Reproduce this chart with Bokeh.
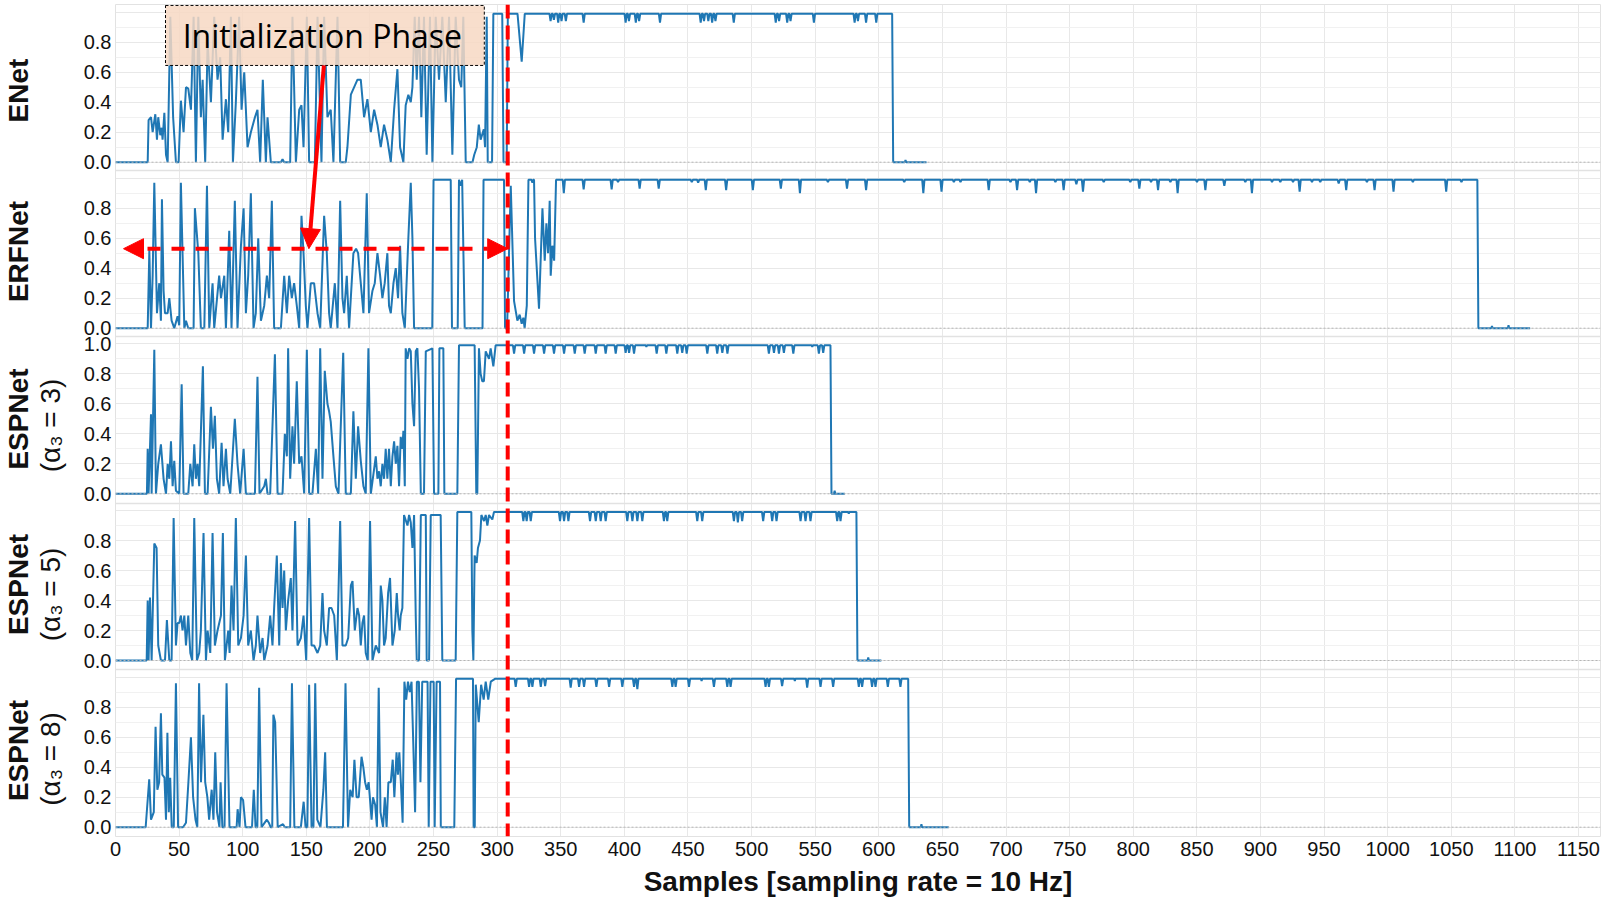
import math
from bokeh.plotting import figure
from bokeh.layouts import row
from bokeh.models import (Range1d, FixedTicker, Span, Arrow, NormalHead, BoxAnnotation, Label)
from bokeh.embed import file_html
from bokeh.resources import INLINE

# ---------------- data ----------------
X_TICKS = [0, 50, 100, 150, 200, 250, 300, 350, 400, 450, 500, 550, 600, 650, 700,
           750, 800, 850, 900, 950, 1000, 1050, 1100, 1150]
Y_TICKS_FULL = [0.0, 0.2, 0.4, 0.6, 0.8, 1.0]
Y_MINOR_FULL = [0.1, 0.3, 0.5, 0.7, 0.9]
SHOW_TOP_LABEL = [False, False, True, False, False]

PANEL_NAMES = ["ENet", "ERFNet", "ESPNet", "ESPNet", "ESPNet"]
PANEL_SUBS = [None, None, "(α₃ = 3)", "(α₃ = 5)", "(α₃ = 8)"]
INIT_END = 308.3
X_LABEL = "Samples [sampling rate = 10 Hz]"
ANNOTATION_TEXT = "Initialization Phase"

# (sample, probability) vertices
ENET = [
    (0, 0), (25.3, 0), (26, 0.28), (27.9, 0.3), (29.2, 0.2), (31.3, 0.32), (32.6, 0.15),
    (33.6, 0.3), (35.2, 0.18), (36.3, 0.23), (37, 0.15), (38.4, 0.33), (39.7, 0.05), (41, 0),
    (43.1, 0.97), (45.3, 0.3), (47.5, 0), (49.6, 0), (51.4, 0.41), (53.5, 0.2), (55.4, 0.5),
    (57.2, 0.49), (59.3, 0.35), (61.4, 0.97), (63.2, 0), (65.1, 0.97), (67.1, 0.3), (68.5, 0.55),
    (70.5, 0), (72.4, 0.8), (75, 0.4), (77.6, 0.97), (80.2, 0.55), (82.3, 0.7), (84.2, 0.15),
    (86.8, 0.42), (88.6, 0.2), (90.7, 0.97), (92.3, 0), (94.6, 0.4), (97.2, 0.97), (99.1, 0.35),
    (101.2, 0.6), (103.8, 0.1), (106.4, 0.2), (109.6, 0.3), (111.6, 0.35), (113.7, 0),
    (115.8, 0.55), (118.2, 0), (119.5, 0.3), (122.1, 0), (130, 0), (131.3, 0.02), (132.6, 0),
    (137.3, 0), (139.1, 0.97), (141.8, 0), (144.4, 0.35), (146.2, 0.38), (147.8, 0.1),
    (150.4, 0.97), (152.2, 0), (156.7, 0), (158.8, 0.97), (161.9, 0), (164, 0.97), (166.6, 0.3),
    (169.2, 0.35), (171.3, 0), (174.5, 0.97), (176.6, 0), (181, 0), (182.3, 0.1), (185, 0.45),
    (187.6, 0.5), (190.2, 0.55), (192.8, 0.55), (195.4, 0.3), (198, 0.42), (200.7, 0.2),
    (203.3, 0.35), (205.9, 0.25), (208.5, 0.1), (211.1, 0.25), (213.7, 0.15), (216.4, 0),
    (219, 0.35), (221.6, 0.62), (223.7, 0.1), (226.3, 0), (228.1, 0.38), (230.2, 0.45),
    (232.1, 0.4), (233.4, 0.5), (235.2, 0.97), (236.8, 0.55), (238.6, 0.97), (240.4, 0.3),
    (242.5, 0.97), (244.6, 0.05), (247.2, 0.97), (249.1, 0), (251.7, 0.97), (254.3, 0.55),
    (256.9, 0.97), (259.6, 0.4), (262.2, 0.97), (264.8, 0.05), (267.4, 0.97), (270, 0.55),
    (271.8, 0.5), (273.4, 0.97), (275.3, 0), (280.6, 0), (282, 0.05), (284, 0.1), (285.6, 0.25),
    (287, 0.15), (289.5, 0.22), (290.5, 0.1), (291.8, 0.97), (292.6, 0), (296, 0), (297, 0.99),
    (304, 0.99), (305, 0), (307.5, 0), (308.4, 0.99), (316, 0.99), (319.3, 0.67), (321.7, 0.99),
    (341.1, .99), (342, .94), (342.9, .99), (343.7, .99), (344.6, .95), (345.5, .99),
    (347.1, .99), (348, .93), (348.9, .99), (349.7, .99), (350.6, .94), (351.5, .99),
    (353.1, .99), (354, .94), (354.9, .99), (367.1, .99), (368, .93), (368.9, .99),
    (400.1, .99), (401, .93), (401.9, .99), (402.7, .99), (403.6, .94), (404.5, .99),
    (408.1, .99), (409, .93), (409.9, .99), (410.7, .99), (411.6, .94), (412.5, .99),
    (427.1, .99), (428, .93), (428.9, .99),
    (459.1, .99), (460, .93), (460.9, .99), (461.7, .99), (462.6, .94), (463.5, .99),
    (465.1, .99), (466, .94), (466.9, .99), (468.1, .99), (469, .93), (469.9, .99),
    (470.7, .99), (471.6, .94), (472.5, .99), (485.1, .99), (486, .93), (486.9, .99),
    (518.1, .99), (519, .93), (519.9, .99), (520.7, .99), (521.6, .94), (522.5, .99),
    (527.1, .99), (528, .93), (528.9, .99), (529.7, .99), (530.6, .94), (531.5, .99),
    (548.1, .99), (549, .93), (549.9, .99),
    (580.1, .99), (581, .93), (581.9, .99), (582.7, .99), (583.6, .94), (584.5, .99),
    (589.1, .99), (590, .93), (590.9, .99), (597.1, .99), (598, .93), (598.9, .99),
    (610.5, .99), (611.3, 0), (620.5, 0), (621, .015), (621.5, 0), (637.5, 0),
]

ERFNET = [
    (0, 0), (25.3, 0), (26.6, 0.52), (27.9, 0), (29.2, 0.35), (30.5, 0.97), (32.6, 0.1),
    (34.4, 0.3), (35.7, 0.05), (36.5, 0.86), (37.8, 0.25), (38.9, 0.1), (41, 0.1), (42.3, 0.2),
    (44.1, 0.05), (46.2, 0), (48.8, 0.08), (50.1, 0.02), (51.4, 0.97), (54.1, 0), (55.4, 0.05),
    (57.2, 0), (61.4, 0), (62.4, 0.8), (65.1, 0.5), (67.1, 0), (69.8, 0), (71.9, 0.95),
    (73.7, 0), (76.3, 0.3), (77.6, 0), (81.5, 0.35), (82.9, 0.2), (85.5, 0.35), (86.8, 0),
    (89.4, 0.65), (91.2, 0), (93.8, 0.85), (95.9, 0), (98.6, 0.55), (100.7, 0.8), (102.5, 0.1),
    (104.3, 0.35), (106.4, 0.9), (108.5, 0), (110.3, 0.1), (112.2, 0.6), (114.3, 0.05),
    (116.9, 0.15), (119, 0.35), (120.8, 0.2), (122.9, 0.85), (124.7, 0), (130, 0),
    (132.6, 0.35), (134.7, 0.1), (136.5, 0.35), (138.6, 0.2), (140.4, 0.3), (142.5, 0.15),
    (144.4, 0), (146.2, 0.75), (147.8, 0.5), (149.6, 0.15), (150.9, 0), (153.5, 0.3),
    (156.1, 0.3), (158.8, 0.1), (160.9, 0), (164, 0.75), (166.1, 0.5), (167.9, 0.1),
    (169.2, 0), (172.4, 0.3), (174.5, 0), (176.6, 0.85), (178.4, 0.2), (179.7, 0.1),
    (181.8, 0.35), (183.6, 0), (187, 0.5), (189.1, 0.53), (190.7, 0.5), (192.8, 0.3),
    (194.9, 0.1), (197.5, 0.9), (199.3, 0.1), (202, 0.25), (203.8, 0.3), (205.9, 0.5),
    (208, 0.35), (209.8, 0.2), (211.6, 0.3), (213.7, 0.5), (215, 0.15), (216.4, 0.1),
    (218.5, 0.3), (220.3, 0.4), (222.1, 0.2), (223.7, 0.55), (225.5, 0.1), (227.4, 0),
    (230.2, 0.6), (232.1, 0.97), (233.4, 0.6), (234.7, 0), (249, 0), (250, 0.99),
    (263.5, 0.99), (264.5, 0), (269, 0), (270, 0.99), (271.5, 0.95), (272.5, 0.99),
    (274.5, 0), (288.5, 0), (289.3, 0.99), (305.4, 0.99), (306.2, 0), (307.8, 0),
    (310.7, 0.95), (313.3, 0.18), (315.9, 0.05), (317.7, 0.09), (319.3, 0.03), (320.6, 0.07),
    (321.6, 0), (323.3, 0.15), (324.6, 0.99), (327, 0.99), (327.7, 0.97), (328.4, 0.99),
    (329, 0.99), (329.8, 0.6), (332.9, 0.13), (335.6, 0.8), (337.4, 0.45), (338.7, 0.7),
    (340, 0.5), (341.3, 0.85), (342.1, 0.35), (343.4, 0.55), (344.8, 0.45), (346.3, 0.99),
    (351.5, .99), (352.4, .90), (353.3, .99), (367.1, .99), (368, .925), (368.9, .99),
    (389.1, .99), (390, .925), (390.9, .99), (394.1, .99), (395, .975), (395.9, .99),
    (411.1, .99), (412, .93), (412.9, .99), (426.1, .99), (427, .93), (427.9, .99),
    (452.1, .99), (453, .975), (453.9, .99), (457.1, .99), (458, .97), (458.9, .99),
    (463.1, .99), (464, .92), (464.9, .99), (479.1, .99), (480, .92), (480.9, .99),
    (500.1, .99), (501, .92), (501.9, .99), (522.1, .99), (523, .93), (523.9, .99),
    (537.1, .99), (538, .90), (538.9, .99), (559.1, .99), (560, .975), (560.9, .99),
    (574.1, .99), (575, .93), (575.9, .99), (589.1, .99), (590, .92), (590.9, .99),
    (619.1, .99), (620, .975), (620.9, .99), (634.1, .99), (635, .90), (635.9, .99),
    (648.4, .99), (649.3, .91), (650.2, .99), (658.1, .99), (659, .975), (659.9, .99),
    (663.3, .99), (664.2, .975), (665.1, .99), (685.5, .99), (686.4, .92), (687.3, .99),
    (702.6, .99), (703.5, .975), (704.4, .99), (707.8, .99), (708.7, .92), (709.6, .99),
    (717.8, .99), (718.7, .975), (719.6, .99), (722.7, .99), (723.6, .90), (724.5, .99),
    (737.9, .99), (738.8, .975), (739.7, .99), (744.4, .99), (745.3, .92), (746.2, .99),
    (754.4, .99), (755.3, .96), (756.2, .99), (759.6, .99), (760.5, .91), (761.4, .99),
    (775.9, .99), (776.8, .975), (777.7, .99), (796.8, .99), (797.7, .975), (798.6, .99),
    (803.9, .99), (804.8, .93), (805.7, .99), (813.1, .99), (814, .975), (814.9, .99),
    (818.6, .99), (819.5, .92), (820.4, .99), (828.3, .99), (829.2, .975), (830.1, .99),
    (834, .99), (834.9, .90), (835.8, .99), (849.2, .99), (850.1, .975), (851, .99),
    (855.8, .99), (856.7, .92), (857.6, .99), (870.7, .99), (871.6, .95), (872.5, .99),
    (887.2, .99), (888.1, .975), (889, .99), (892.4, .99), (893.3, .90), (894.2, .99),
    (908.2, .99), (909.1, .975), (910, .99), (914.7, .99), (915.6, .975), (916.5, .99),
    (924.7, .99), (925.6, .975), (926.5, .99), (929.9, .99), (930.8, .91), (931.7, .99),
    (939.6, .99), (940.5, .975), (941.4, .99), (946.1, .99), (947, .975), (947.9, .99),
    (960.6, .99), (961.5, .965), (962.4, .99), (966.5, .99), (967.4, .92), (968.3, .99),
    (982.8, .99), (983.7, .975), (984.6, .99), (988.8, .99), (989.7, .92), (990.6, .99),
    (1003.7, .99), (1004.6, .91), (1005.5, .99), (1018.9, .99), (1019.8, .975), (1020.7, .99),
    (1045.1, .99), (1046, .91), (1046.9, .99), (1057.1, .99), (1058, .975), (1058.9, .99),
    (1070.5, .99), (1071.3, 0), (1081.5, 0), (1082, .015), (1082.5, 0), (1094.5, 0),
    (1095, .02), (1095.5, 0), (1112, 0),
]

ESPNET_A3 = [
    (0, 0), (24.7, 0), (25.3, 0.3), (26, 0), (27.9, 0.53), (28.4, 0), (30.5, 0.96), (31.8, 0),
    (33.6, 0.2), (35.7, 0.33), (37.8, 0.1), (39.7, 0), (41, 0.2), (42.3, 0.1), (43.6, 0.35),
    (44.9, 0.05), (46.2, 0.22), (47.5, 0.02), (50.1, 0), (52, 0.73), (53.5, 0), (57.2, 0),
    (58.8, 0.2), (60.6, 0.05), (61.9, 0.33), (63.2, 0.1), (64.5, 0.2), (65.8, 0.05),
    (68.7, 0.85), (70.3, 0), (72.4, 0), (75, 0.58), (76.6, 0.3), (78.1, 0.52), (79.7, 0.1),
    (81.5, 0), (83.4, 0.34), (84.9, 0.05), (86.8, 0.3), (88.1, 0.1), (90.2, 0), (93.8, 0.5),
    (95.9, 0.2), (98, 0), (100.7, 0.3), (102.5, 0), (109.6, 0), (111.6, 0.78), (113.2, 0),
    (116.9, 0.05), (118.2, 0.1), (119.5, 0), (121.6, 0), (125.3, 0.93), (127.4, 0), (131.3, 0),
    (133.1, 0.4), (134.7, 0.25), (135.7, 0.97), (137.3, 0.1), (139.1, 0.45), (140.4, 0.2),
    (142.5, 0.75), (144.4, 0.2), (146.2, 0.25), (148.3, 0), (150.4, 0.96), (152.2, 0),
    (154.8, 0), (157.5, 0.3), (159.3, 0), (160.9, 0.97), (162.7, 0.1), (164.5, 0.82),
    (166.6, 0.6), (167.9, 0.55), (169.2, 0.48), (171.3, 0.25), (173.2, 0.05), (175.3, 0),
    (179, 0.94), (181, 0), (185, 0), (187, 0.55), (188.9, 0.1), (190.7, 0.45), (192.8, 0.22),
    (194.9, 0.05), (196.7, 0), (198.8, 0.97), (200.7, 0), (204.6, 0.25), (205.9, 0.1),
    (207.2, 0.15), (208.5, 0.05), (209.8, 0.2), (211.1, 0.1), (212.4, 0.3), (213.7, 0.1),
    (215, 0.3), (216.4, 0.05), (217.7, 0.25), (219, 0.35), (220.3, 0.2), (221.6, 0.32),
    (222.9, 0.05), (224.2, 0.38), (225.5, 0.3), (226.3, 0.42), (227.4, 0.05), (228.1, 0.97),
    (229.5, 0.9), (230.8, 0.97), (232.1, 0.95), (233.4, 0.6), (234.7, 0.45), (236, 0.95),
    (237.3, 0.97), (238.6, 0.7), (240, 0), (242.5, 0), (243.9, 0.95), (249.1, 0.97),
    (250.4, 0), (253.8, 0), (254.6, 0.97), (257.7, 0.97), (258.5, 0), (268.7, 0), (270, 0.99),
    (282.3, 0.99), (283.6, 0), (284.4, 0), (285.7, 0.97), (287, 0.8), (288.3, 0.75),
    (289.6, 0.75), (291, 0.95), (293.6, 0.9), (294.9, 0.97), (297, 0.85), (298.8, 0.99),
    (312.4, .99), (313.3, .935), (314.2, .99), (320.3, .99), (321.2, .935), (322.1, .99),
    (328.1, .99), (329, .935), (329.9, .99), (336, .99), (336.9, .935), (337.8, .99),
    (343.8, .99), (344.7, .935), (345.6, .99), (351.7, .99), (352.6, .935), (353.5, .99),
    (360.1, .99), (361, .935), (361.9, .99), (367.9, .99), (368.8, .935), (369.7, .99),
    (376.6, .99), (377.5, .935), (378.4, .99), (384.4, .99), (385.3, .935), (386.2, .99),
    (392.3, .99), (393.2, .935), (394.1, .99), (400.1, .99), (401, .94), (401.9, .99),
    (402.8, .99), (403.7, .94), (404.6, .99), (406.7, .99), (407.6, .935), (408.5, .99),
    (416.8, .99), (417.3, .98), (417.8, .99), (424.5, .99), (425.4, .935), (426.3, .99),
    (432.1, .99), (433, .935), (433.9, .99), (440.7, .99), (441.6, .935), (442.5, .99),
    (444.6, .99), (445.5, .94), (446.4, .99), (448.1, .99), (449, .935), (449.9, .99),
    (464.3, .99), (465.2, .935), (466.1, .99), (472.1, .99), (473, .935), (473.9, .99),
    (476.1, .99), (477, .94), (477.9, .99), (480.1, .99), (481, .935), (481.9, .99),
    (512.7, .99), (513.6, .935), (514.5, .99), (516.7, .99), (517.6, .94), (518.5, .99),
    (520.6, .99), (521.5, .935), (522.4, .99), (524.5, .99), (525.4, .94), (526.3, .99),
    (531.9, .99), (532.8, .935), (533.7, .99), (547.2, .99), (547.7, .98), (548.2, .99),
    (552, .99), (552.9, .935), (553.8, .99), (555.4, .99), (556.3, .94), (557.2, .99),
    (562, .99), (562.8, 0), (564.8, 0), (565.3, .02), (565.8, 0), (573.3, 0),
]

ESPNET_A5 = [
    (0, 0), (24.5, 0), (25.3, 0.4), (26, 0), (27.1, 0.42), (28.4, 0), (30.5, 0.78), (32.3, 0.75),
    (33.6, 0.1), (35.7, 0), (38.9, 0), (40.4, 0.27), (42.3, 0), (44.1, 0), (45.7, 0.95),
    (47.5, 0.1), (48.8, 0.25), (50.1, 0.25), (51.4, 0.3), (52.7, 0.2), (54.1, 0.3), (55.4, 0.1),
    (57.2, 0.3), (58.8, 0.05), (60.3, 0), (61.9, 0.95), (64, 0), (65.8, 0.05), (67.1, 0.2),
    (69.2, 0.85), (71.1, 0), (72.4, 0.2), (74.5, 0.05), (76.3, 0.85), (78.1, 0.1), (80.2, 0.2),
    (82.9, 0.3), (84.4, 0.85), (86, 0), (88.6, 0.2), (89.7, 0.05), (91.2, 0.5), (92.8, 0.2),
    (94.6, 0.95), (96.5, 0.1), (98.6, 0.15), (100.7, 0.3), (102.5, 0.7), (104.3, 0.1),
    (106.4, 0.2), (108.5, 0), (110.3, 0.1), (111.6, 0.3), (113.7, 0.05), (115.6, 0.15),
    (116.9, 0), (119.5, 0.1), (121.6, 0.3), (123.4, 0.1), (124.7, 0.35), (126.8, 0.7),
    (128.7, 0.1), (130, 0.65), (131.3, 0.35), (132.6, 0.6), (133.9, 0.2), (135.7, 0.4),
    (137.8, 0.55), (139.1, 0.2), (141.2, 0.93), (143.1, 0.1), (145.7, 0.15), (147.8, 0.3),
    (149.9, 0), (152.2, 0.95), (154.1, 0.1), (156.1, 0.1), (158.8, 0.05), (160.9, 0.1),
    (162.7, 0.45), (164, 0.2), (166.1, 0.1), (167.9, 0.35), (169.8, 0.35), (171.9, 0.3),
    (174, 0), (176.6, 0.93), (178.4, 0.1), (181, 0.1), (182.9, 0.15), (185, 0.5), (186.3, 0.53),
    (188.1, 0.2), (190.2, 0.35), (191.5, 0.3), (192.8, 0.1), (194.1, 0.25), (195.4, 0.3),
    (196.7, 0.05), (198.3, 0), (200.1, 0.93), (202, 0), (204.6, 0.1), (207.2, 0.05),
    (208.5, 0.5), (209.8, 0.4), (211.1, 0.1), (212.4, 0.15), (214.3, 0.45), (215.8, 0.55),
    (217.7, 0.1), (219.5, 0.2), (221.1, 0.45), (222.1, 0.3), (223.4, 0.2), (224.2, 0.3),
    (225.5, 0.35), (226.8, 0.97), (229.5, 0.9), (230.8, 0.97), (232.1, 0.92), (233.4, 0.75),
    (234.7, 0.97), (236, 0.3), (236.8, 0), (238.6, 0), (240, 0.97), (243.9, 0.97), (244.6, 0),
    (246.5, 0), (247.8, 0.97), (255.6, 0.97), (256.9, 0), (267.4, 0), (268.7, 0.99),
    (279.7, 0.99), (280.5, 0.2), (281.3, 0), (282.3, 0.7), (283.9, 0.65), (284.9, 0.75),
    (286.5, 0.8), (287.6, 0.97), (289.7, 0.93), (291, 0.97), (292.3, 0.9), (293.6, 0.97),
    (296.2, 0.94), (297.5, 0.99),
    (319.7, .99), (320.6, .93), (321.5, .99), (322.3, .99), (323.2, .93), (324.1, .99),
    (325.5, .99), (326.4, .93), (327.3, .99), (348.5, .99), (349.4, .93), (350.3, .99),
    (351.7, .99), (352.6, .93), (353.5, .99), (355.1, .99), (356, .93), (356.9, .99),
    (372.1, .99), (373, .93), (373.9, .99), (376.6, .99), (377.5, .93), (378.4, .99),
    (380.5, .99), (381.4, .93), (382.3, .99), (384.4, .99), (385.3, .93), (386.2, .99),
    (401.4, .99), (402.3, .93), (403.2, .99), (405.4, .99), (406.3, .93), (407.2, .99),
    (409.3, .99), (410.2, .93), (411.1, .99), (413.2, .99), (414.1, .93), (415, .99),
    (430.2, .99), (431.1, .93), (432, .99), (432.8, .99), (433.7, .93), (434.6, .99),
    (456.4, .99), (457.3, .93), (458.2, .99), (460.3, .99), (461.2, .93), (462.1, .99),
    (485.2, .99), (486.1, .93), (487, .99), (488.3, .99), (489.2, .92), (490.1, .99),
    (491.7, .99), (492.6, .93), (493.5, .99), (508.2, .99), (509.1, .93), (510, .99),
    (515.3, .99), (516.2, .93), (517.1, .99), (518.7, .99), (519.6, .93), (520.5, .99),
    (537.6, .99), (538.5, .93), (539.4, .99), (541.5, .99), (542.4, .93), (543.3, .99),
    (545.4, .99), (546.3, .93), (547.2, .99), (566.4, .99), (567.3, .93), (568.2, .99),
    (569, .99), (569.9, .93), (570.8, .99), (575.9, .99), (576.4, .98), (576.9, .99),
    (582.4, .99), (583.2, 0), (591.2, 0), (591.7, .02), (592.2, 0), (602, 0),
]

ESPNET_A8 = [
    (0, 0), (23.7, 0), (26.5, 0.32), (27.9, 0.05), (30.1, 0.1), (31.5, 0.67), (32.9, 0.25),
    (34.3, 0.3), (35.7, 0.76), (36.8, 0.35), (38.5, 0.33), (39.7, 0.05), (40.8, 0.63),
    (41.9, 0.1), (43, 0.33), (44.2, 0), (45.8, 0), (47.5, 0.96), (49.2, 0), (53.1, 0),
    (55.4, 0.03), (57.3, 0.3), (59.3, 0.6), (61, 0.2), (62.9, 0.05), (64.3, 0), (65.7, 0.96),
    (67.2, 0.3), (69.1, 0.75), (70.5, 0.3), (72.2, 0.2), (73.6, 0.05), (75.6, 0.25), (77, 0.05),
    (78.4, 0.5), (79.8, 0.1), (81.7, 0), (82.6, 0.3), (84, 0), (85.7, 0), (87.3, 0.96),
    (89.6, 0), (95.2, 0), (96, 0.12), (97.5, 0), (98.6, 0.2), (100.3, 0.18), (102.2, 0),
    (107.3, 0), (108.7, 0.25), (110.1, 0), (111.5, 0), (112.9, 0.93), (114.8, 0), (119, 0.05),
    (120.5, 0.03), (121.9, 0), (123.2, 0), (124.1, 0.75), (125.5, 0.7), (127.5, 0),
    (131.7, 0.02), (133.1, 0), (137.3, 0), (138.7, 0.96), (140.6, 0), (145.7, 0),
    (147.9, 0.17), (149.4, 0), (150.8, 0), (152.2, 0.95), (154.1, 0), (155.6, 0), (157, 0.96),
    (158.6, 0.05), (161.1, 0), (163.4, 0.25), (164.8, 0.5), (166.2, 0), (176.6, 0),
    (178.8, 0), (180.8, 0.96), (182.8, 0), (184.5, 0.25), (186.4, 0.2), (187.8, 0.45),
    (189.5, 0.2), (191.2, 0.2), (193.4, 0.47), (194.8, 0.4), (196.2, 0.3), (197.6, 0.25),
    (199, 0.3), (201.3, 0.05), (202.4, 0.2), (204.1, 0.15), (205.5, 0), (206.9, 0.93),
    (208.3, 0.1), (210.3, 0), (211.7, 0.2), (213.1, 0), (214.5, 0.3), (216.4, 0.3),
    (217.9, 0.45), (219.2, 0.2), (220.9, 0.5), (222, 0.35), (223.1, 0.5), (224.3, 0.3),
    (225.7, 0.03), (227.1, 0.97), (228.5, 0.85), (229.9, 0.97), (231.3, 0.9), (232.7, 0.97),
    (234.1, 0.55), (235.5, 0.1), (236.9, 0.97), (238.5, 0.97), (239.7, 0.3), (241.1, 0.97),
    (245.3, 0.97), (246.2, 0), (247.6, 0.97), (250.1, 0.97), (250.9, 0), (252.4, 0.97),
    (255.1, 0.97), (255.7, 0), (266.3, 0), (267.7, 0.99), (281, 0.99), (281.5, 0), (282.4, 0),
    (283.2, 0.95), (285.5, 0.7), (287.4, 0.95), (289.4, 0.85), (291, 0.97), (293, 0.85),
    (295, 0.97), (298.6, 0.99),
    (313.7, .99), (314.6, .935), (315.5, .99), (324.2, .99), (325.1, .935), (326, .99),
    (326.8, .99), (327.7, .935), (328.6, .99), (333.4, .99), (334.3, .935), (335.2, .99),
    (336.8, .99), (337.7, .94), (338.6, .99), (356.9, .99), (357.8, .93), (358.7, .99),
    (363.5, .99), (364.4, .935), (365.3, .99), (367.4, .99), (368.3, .935), (369.2, .99),
    (377.1, .99), (378, .935), (378.9, .99), (387.1, .99), (388, .935), (388.9, .99),
    (397.5, .99), (398.4, .935), (399.3, .99), (406.7, .99), (407.6, .935), (408.5, .99),
    (409.3, .99), (410.2, .92), (411.1, .99), (436.8, .99), (437.7, .935), (438.6, .99),
    (439.4, .99), (440.3, .935), (441.2, .99), (449.9, .99), (450.8, .935), (451.7, .99),
    (460.2, .99), (460.7, .975), (461.2, .99), (469.5, .99), (470.4, .935), (471.3, .99),
    (480, .99), (480.9, .935), (481.8, .99), (482.6, .99), (483.5, .935), (484.4, .99),
    (510.1, .99), (511, .935), (511.9, .99), (512.7, .99), (513.6, .935), (514.5, .99),
    (523.1, .99), (524, .94), (524.9, .99), (533.5, .99), (534, .975), (534.5, .99),
    (542.8, .99), (543.7, .93), (544.6, .99), (553.3, .99), (554.2, .935), (555.1, .99),
    (563.2, .99), (564.1, .935), (565, .99), (583.4, .99), (584.3, .935), (585.2, .99),
    (586, .99), (586.9, .935), (587.8, .99), (593.8, .99), (594.7, .935), (595.6, .99),
    (596.5, .99), (597.4, .935), (598.3, .99), (606.2, .99), (607.1, .935), (608, .99),
    (616.1, .99), (617, .935), (617.9, .99),
    (623.1, .99), (623.9, 0), (633, 0), (633.5, .02), (634, 0), (655, 0),
]

SERIES = [ENET, ERFNET, ESPNET_A3, ESPNET_A5, ESPNET_A8]

# ---------------- layout / style ----------------
H = 900
LABEL_W = 80
MAIN_W = 1522
FRAME_TOP = 4.0          # page y of the top of the stacked panels
FRAME_BOTTOM = 836.0     # page y of the bottom of the stacked panels
PANEL_BOUNDS = [170.0, 336.0, 503.0, 669.0]
ZERO_Y = [161.7, 327.7, 493.3, 660.0, 826.7]   # page y of value 0 in each panel
PX_PER_UNIT = 150.0
X_END = 1167.3
NAME_POS = [(17.5, 90), (17.5, 251), (17.5, 418.5), (17.5, 584), (17.5, 750)]
SUB_POS = [None, None, (49.5, 425), (49.5, 594), (49.5, 758.5)]
LINE_COLOR = "#1f77b4"
RED = "#ff0000"
GRID = "#e8e8e8"
GRID_MINOR = "#f1f1f1"
FONT = "Liberation Sans"

# ---------------- main stacked plot ----------------
main = figure(width=MAIN_W, height=H, x_range=Range1d(0, X_END),
              y_range=Range1d(FRAME_BOTTOM, FRAME_TOP),
              toolbar_location=None, output_backend="svg",
              min_border=0, min_border_left=34, min_border_right=2,
              min_border_top=int(FRAME_TOP), min_border_bottom=int(H - FRAME_BOTTOM))
main.outline_line_color = "#e2e2e2"
main.background_fill_color = "white"
main.border_fill_color = "white"

names = []
for k, z in enumerate(ZERO_Y):
    name = "p%d" % k
    names.append(name)
    main.extra_y_ranges[name] = Range1d(-(FRAME_BOTTOM - z) / PX_PER_UNIT,
                                        (z - FRAME_TOP) / PX_PER_UNIT)

# y ticks: each panel's 0.0 ... 1.0, positioned in page coordinates
major, minor, overrides = [], [], {}
for k, z in enumerate(ZERO_Y):
    for v in Y_TICKS_FULL:
        pos = round(z - v * PX_PER_UNIT, 3)
        major.append(pos)
        overrides[pos] = ("%.1f" % v) if (v < 1.0 or SHOW_TOP_LABEL[k]) else ""
    for v in Y_MINOR_FULL:
        minor.append(round(z - v * PX_PER_UNIT, 3))

main.yaxis.ticker = FixedTicker(ticks=major, minor_ticks=minor)
main.yaxis.major_label_overrides = overrides
main.yaxis.major_label_text_font = FONT
main.yaxis.major_label_text_font_size = "20px"
main.yaxis.major_label_text_color = "#111111"
main.yaxis.major_label_standoff = 4
main.yaxis.major_tick_out = 0
main.yaxis.major_tick_in = 0
main.yaxis.minor_tick_out = 0
main.yaxis.minor_tick_in = 0
main.yaxis.axis_line_color = None
main.ygrid.grid_line_color = GRID
main.ygrid.minor_grid_line_color = GRID_MINOR

main.xaxis.ticker = FixedTicker(ticks=X_TICKS)
main.xgrid.grid_line_color = GRID
main.xaxis.major_label_text_font = FONT
main.xaxis.major_label_text_font_size = "20px"
main.xaxis.major_label_text_color = "#111111"
main.xaxis.major_label_standoff = 5
main.xaxis.major_tick_out = 0
main.xaxis.major_tick_in = 0
main.xaxis.minor_tick_out = 0
main.xaxis.minor_tick_in = 0
main.xaxis.axis_line_color = None
main.xaxis.axis_label = X_LABEL
main.xaxis.axis_label_text_font = FONT
main.xaxis.axis_label_text_font_size = "28px"
main.xaxis.axis_label_text_font_style = "bold"
main.xaxis.axis_label_text_color = "#111111"
main.xaxis.axis_label_standoff = 7

# panel separators
for b in PANEL_BOUNDS:
    main.add_layout(Span(location=b, dimension="width", line_color="#e2e2e2", line_width=1.5))

for k, data in enumerate(SERIES):
    main.add_layout(Span(location=0, dimension="width", y_range_name=names[k],
                         line_color="#b5b5b5", line_width=1, line_dash="2 2"))
    xs = [pt[0] for pt in data]
    ys = [pt[1] for pt in data]
    main.line(xs, ys, y_range_name=names[k], line_color=LINE_COLOR, line_width=2)

# ---------------- annotations ----------------
main.add_layout(BoxAnnotation(left=39.3, right=289.9, bottom=0.645, top=1.045,
                              y_range_name="p0",
                              fill_color="#f7d8c3", fill_alpha=0.85,
                              line_color="black", line_alpha=1.0,
                              line_dash="3 2", line_width=1))
main.add_layout(Label(x=162.6, y=0.845, y_range_name="p0", text=ANNOTATION_TEXT,
                      text_align="center", text_baseline="middle", text_font="Open Sans",
                      text_font_size="32px", text_color="black"))
# slanted pointer from the box down to the dashed arrow (ERFNet panel coordinates)
main.add_layout(Arrow(end=NormalHead(size=20, fill_color=RED, line_color=RED),
                      y_range_name="p1",
                      x_start=163.8, y_start=1.752, x_end=152.0, y_end=0.53,
                      line_color=RED, line_width=4))
# double-headed dashed arrow spanning the initialization phase
main.add_layout(Arrow(start=NormalHead(size=20, fill_color=RED, line_color=RED),
                      end=NormalHead(size=20, fill_color=RED, line_color=RED),
                      y_range_name="p1",
                      x_start=6.3, y_start=0.53, x_end=INIT_END, y_end=0.53,
                      line_color=RED, line_width=4, line_dash="13 11"))
main.add_layout(Span(location=INIT_END, dimension="height", line_color=RED,
                     line_width=4, line_dash="14 7"))

# ---------------- left panel titles ----------------
# same vertical borders as the main plot, so page y maps 1:1 inside the frame
lab = figure(width=LABEL_W, height=H, x_range=Range1d(0, LABEL_W),
             y_range=Range1d(FRAME_BOTTOM, FRAME_TOP),
             toolbar_location=None, output_backend="svg",
             x_axis_location=None, y_axis_location=None, min_border=0,
             min_border_top=int(FRAME_TOP), min_border_bottom=int(H - FRAME_BOTTOM))
lab.outline_line_color = None
lab.grid.grid_line_color = None
lab.background_fill_color = "white"
lab.border_fill_color = "white"
for k in range(len(SERIES)):
    nx, ny = NAME_POS[k]
    lab.add_layout(Label(x=nx, y=ny, text=PANEL_NAMES[k], angle=math.pi / 2,
                         text_align="center", text_baseline="middle",
                         text_font=FONT, text_font_size="28px", text_font_style="bold",
                         text_color="#111111"))
    if SUB_POS[k]:
        sx, sy = SUB_POS[k]
        lab.add_layout(Label(x=sx, y=sy, text=PANEL_SUBS[k], angle=math.pi / 2,
                             text_align="center", text_baseline="middle",
                             text_font=FONT, text_font_size="28px", text_font_style="normal",
                             text_color="#111111"))

layout = row(lab, main, spacing=0)
open("out.html", "w").write(file_html(layout, INLINE))
